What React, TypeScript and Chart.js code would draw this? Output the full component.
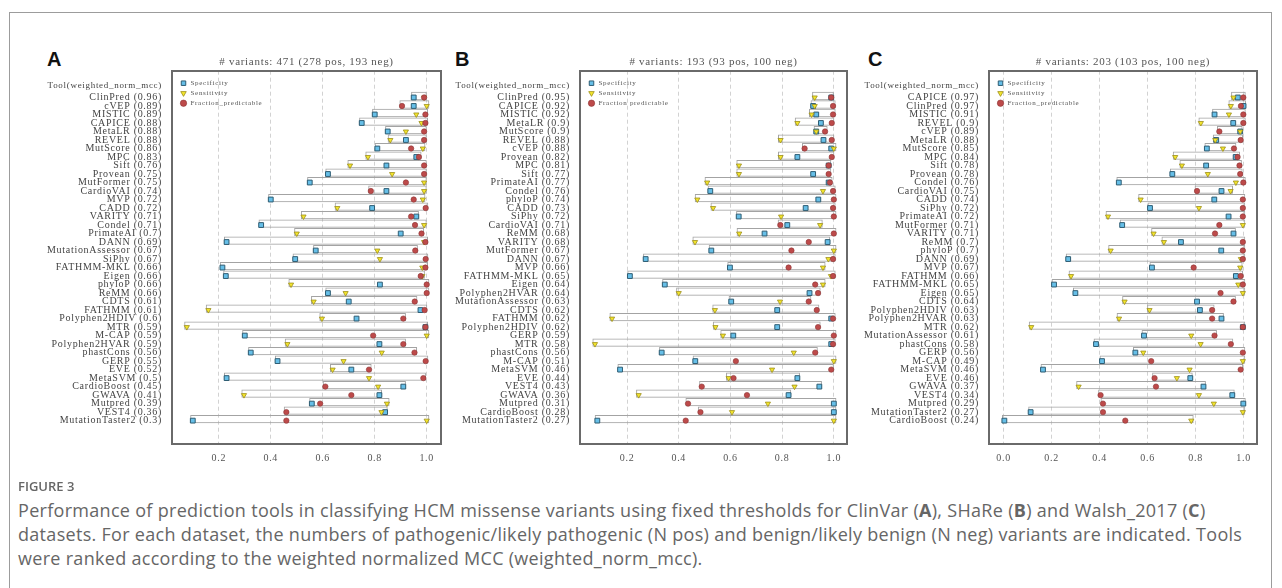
import React, { useEffect, useRef } from 'react';
import Chart from 'chart.js/auto';

// ---------- Panel A (ClinVar) ----------
const toolsA = ['ClinPred', 'cVEP', 'MISTIC', 'CAPICE', 'MetaLR', 'REVEL', 'MutScore', 'MPC', 'Sift', 'Provean', 'MutFormer', 'CardioVAI', 'MVP', 'CADD', 'VARITY', 'Condel', 'PrimateAI', 'DANN', 'MutationAssessor', 'SiPhy', 'FATHMM-MKL', 'Eigen', 'phyloP', 'ReMM', 'CDTS', 'FATHMM', 'Polyphen2HDIV', 'MTR', 'M-CAP', 'Polyphen2HVAR', 'phastCons', 'GERP', 'EVE', 'MetaSVM', 'CardioBoost', 'GWAVA', 'Mutpred', 'VEST4', 'MutationTaster2'];
const mccA = [0.96, 0.89, 0.89, 0.88, 0.88, 0.88, 0.86, 0.83, 0.76, 0.75, 0.75, 0.74, 0.72, 0.72, 0.71, 0.71, 0.7, 0.69, 0.67, 0.67, 0.66, 0.66, 0.66, 0.66, 0.61, 0.61, 0.6, 0.59, 0.59, 0.59, 0.56, 0.55, 0.52, 0.5, 0.45, 0.41, 0.39, 0.36, 0.3];
const specA = [0.95, 0.95, 0.80, 0.75, 0.85, 0.92, 0.81, 0.96, 0.845, 0.62, 0.55, 0.845, 0.40, 0.79, 0.96, 0.363, 0.90, 0.23, 0.573, 0.494, 0.214, 0.227, 0.82, 0.62, 0.70, 0.976, 0.73, 0.995, 0.30, 0.818, 0.323, 0.426, 0.71, 0.23, 0.91, 0.818, 0.558, 0.84, 0.10];
const sensA = [0.99, 1.0, 0.96, 0.98, 0.92, 0.86, 0.985, 0.774, 0.705, 0.867, 0.99, 0.99, 0.985, 0.656, 0.526, 0.99, 0.50, 0.99, 0.81, 0.82, 0.983, 0.983, 0.478, 0.688, 0.565, 0.16, 0.597, 0.077, 1.0, 0.464, 0.827, 0.68, 0.638, 0.778, 0.813, 0.297, 0.847, 0.826, 1.0];
const fracA = [0.99, 0.905, 0.995, 0.995, 0.99, 0.99, 0.94, 0.97, 0.99, 0.99, 0.92, 0.785, 0.95, 0.996, 0.94, 0.955, 0.98, 0.995, 0.956, 0.996, 0.995, 0.977, 1.0, 1.0, 0.954, 0.992, 0.91, 0.995, 0.794, 0.91, 0.953, 0.996, 0.778, 0.987, 0.61, 0.71, 0.59, 0.46, 0.46];

// ---------- Panel B (SHaRe) ----------
const toolsB = ['ClinPred', 'CAPICE', 'MISTIC', 'MetaLR', 'MutScore', 'REVEL', 'cVEP', 'Provean', 'MPC', 'Sift', 'PrimateAI', 'Condel', 'phyloP', 'CADD', 'SiPhy', 'CardioVAI', 'ReMM', 'VARITY', 'MutFormer', 'DANN', 'MVP', 'FATHMM-MKL', 'Eigen', 'Polyphen2HVAR', 'MutationAssessor', 'CDTS', 'FATHMM', 'Polyphen2HDIV', 'GERP', 'MTR', 'phastCons', 'M-CAP', 'MetaSVM', 'EVE', 'VEST4', 'GWAVA', 'Mutpred', 'CardioBoost', 'MutationTaster2'];
const mccB = [0.95, 0.92, 0.92, 0.9, 0.9, 0.88, 0.88, 0.82, 0.81, 0.77, 0.77, 0.76, 0.74, 0.73, 0.72, 0.71, 0.68, 0.68, 0.67, 0.67, 0.66, 0.65, 0.64, 0.64, 0.63, 0.62, 0.62, 0.62, 0.59, 0.58, 0.56, 0.51, 0.46, 0.44, 0.43, 0.36, 0.31, 0.28, 0.27];
const specB = [0.99, 0.92, 0.932, 0.95, 0.932, 0.96, 0.99, 0.859, 0.98, 0.92, 0.98, 0.522, 0.94, 0.891, 0.632, 0.82, 0.732, 0.976, 0.526, 0.272, 0.598, 0.211, 0.346, 0.906, 0.603, 0.781, 0.99, 0.781, 0.611, 0.99, 0.334, 0.464, 0.173, 0.859, 0.944, 0.825, 1.0, 1.0, 0.085];
const sensB = [0.926, 0.926, 0.914, 0.859, 0.932, 0.794, 1.0, 0.794, 0.633, 0.633, 0.51, 0.958, 0.472, 0.533, 0.796, 0.947, 0.634, 0.463, 1.0, 0.979, 0.958, 0.989, 0.958, 0.40, 0.792, 0.54, 0.142, 0.542, 0.571, 0.076, 0.845, 1.0, 0.761, 0.593, 0.848, 0.245, 0.745, 0.606, 1.0];
const fracB = [0.99, 0.997, 0.997, 0.992, 0.966, 0.992, 0.887, 0.992, 0.98, 0.98, 0.985, 0.997, 1.0, 0.997, 1.0, 0.793, 1.0, 0.903, 0.836, 0.997, 0.825, 0.997, 0.928, 0.939, 0.903, 0.934, 0.997, 0.939, 1.0, 0.997, 0.928, 0.621, 0.99, 0.612, 0.489, 0.664, 0.436, 0.484, 0.427];

// ---------- Panel C (Walsh_2017) ----------
const toolsC = ['CAPICE', 'ClinPred', 'MISTIC', 'REVEL', 'cVEP', 'MetaLR', 'MutScore', 'MPC', 'Sift', 'Provean', 'Condel', 'CardioVAI', 'CADD', 'SiPhy', 'PrimateAI', 'MutFormer', 'VARITY', 'ReMM', 'phyloP', 'DANN', 'MVP', 'FATHMM', 'FATHMM-MKL', 'Eigen', 'CDTS', 'Polyphen2HDIV', 'Polyphen2HVAR', 'MTR', 'MutationAssessor', 'phastCons', 'GERP', 'M-CAP', 'MetaSVM', 'EVE', 'GWAVA', 'VEST4', 'Mutpred', 'MutationTaster2', 'CardioBoost'];
const mccC = [0.97, 0.97, 0.91, 0.9, 0.89, 0.88, 0.85, 0.84, 0.78, 0.78, 0.76, 0.75, 0.74, 0.72, 0.72, 0.71, 0.71, 0.7, 0.7, 0.69, 0.67, 0.66, 0.65, 0.65, 0.64, 0.63, 0.63, 0.62, 0.61, 0.58, 0.56, 0.49, 0.46, 0.46, 0.37, 0.34, 0.29, 0.27, 0.24];
const specC = [0.976, 1.0, 0.879, 0.957, 0.986, 0.886, 0.847, 0.967, 0.844, 0.703, 0.48, 0.908, 0.878, 0.61, 0.9375, 0.494, 0.958, 0.739, 0.907, 0.269, 0.618, 0.968, 0.21, 0.299, 0.806, 0.818, 0.908, 0.997, 0.585, 0.385, 0.549, 0.41, 0.164, 0.778, 0.833, 0.953, 0.999, 0.1125, 0.003];
const sensC = [0.958, 0.947, 0.939, 0.822, 0.986, 0.882, 0.914, 0.715, 0.743, 0.851, 0.968, 0.946, 0.571, 0.814, 0.435, 0.997, 0.625, 0.668, 0.446, 0.989, 0.986, 0.281, 0.978, 0.997, 0.504, 0.608, 0.481, 0.115, 0.782, 0.821, 0.582, 0.997, 0.775, 0.722, 0.3125, 0.814, 0.876, 0.997, 0.782];
const fracC = [0.999, 0.989, 0.999, 0.999, 0.899, 0.988, 0.96, 0.975, 0.983, 0.986, 0.999, 0.806, 0.997, 0.997, 0.997, 0.899, 0.881, 0.997, 0.997, 0.997, 0.792, 0.988, 0.997, 0.904, 0.958, 0.869, 0.869, 0.997, 0.879, 0.947, 0.997, 0.615, 0.988, 0.629, 0.635, 0.404, 0.414, 0.414, 0.507];

const titleA = '# variants: 471 (278 pos, 193 neg)';
const titleB = '# variants: 193 (93 pos, 100 neg)';
const titleC = '# variants: 203 (103 pos, 100 neg)';

const xTicksAB = [0.2, 0.4, 0.6, 0.8, 1.0];
const xTicksC = [0.0, 0.2, 0.4, 0.6, 0.8, 1.0];

const HEADER = 'Tool(weighted_norm_mcc)';
const HEADER_POS = -1.4;
const BOX_SHIFT = -0.17;
const BOX_PAD = 0.01;
const SERIF = "'Liberation Serif', 'Times New Roman', serif";

const spacingPlugin = {
  id: 'spacing',
  beforeDraw: (c: any) => {
    c.ctx.letterSpacing = '0.7px';
  },
};
const legendPlace = {
  id: 'legendPlace',
  afterLayout: (c: any) => {
    const l = c.legend;
    if (l) {
      l.left = c.chartArea.left + 5;
      l.top = c.chartArea.top;
      l.bottom = c.chartArea.bottom;
    }
  },
};

type PanelProps = {
  left: number;
  width: number;
  yWidth: number;
  xMin: number;
  xMax: number;
  tools: string[];
  mcc: number[];
  spec: number[];
  sens: number[];
  frac: number[];
  title: string;
  xTicks: number[];
  fracLabel: string;
};

function Panel(p: PanelProps) {
  const ref = useRef<HTMLCanvasElement>(null);
  useEffect(() => {
    const labels = p.tools.map((t, i) => `${t} (${p.mcc[i]})`);
    const rows = p.tools.map((_, i) => i);
    const boxData = rows.map((i) => ({
      x: [Math.min(p.spec[i], p.sens[i], p.frac[i]) - BOX_PAD, Math.max(p.spec[i], p.sens[i], p.frac[i]) + BOX_PAD],
      y: i + BOX_SHIFT,
    }));
    const chartTop = 40;
    const canvasH = 440;
    const plotTop = 70.7;
    const plotBottom = 444;
    const plotRight = p.left + p.width - 9;
    const chart = new Chart(ref.current as HTMLCanvasElement, {
      type: 'bar',
      data: {
        datasets: [
          {
            type: 'bar',
            label: 'range',
            data: boxData as any,
            backgroundColor: 'rgba(0,0,0,0)',
            borderColor: '#a3a3a3',
            borderWidth: 1,
            borderSkipped: false,
            barPercentage: 0.98,
            categoryPercentage: 1,
            xAxisID: 'x',
            yAxisID: 'y',
            order: 10,
          } as any,
          {
            type: 'scatter',
            label: 'Specificity',
            data: p.spec.map((v, i) => ({ x: v, y: i })),
            pointStyle: 'rect',
            pointRadius: 3.4,
            backgroundColor: '#66bfe8',
            borderColor: '#2f5d73',
            borderWidth: 1,
            xAxisID: 'x',
            yAxisID: 'y',
            order: 3,
          } as any,
          {
            type: 'scatter',
            label: 'Sensitivity',
            data: p.sens.map((v, i) => ({ x: v, y: i })),
            pointStyle: 'triangle',
            pointRotation: 180,
            pointRadius: 3,
            backgroundColor: '#f4e62c',
            borderColor: '#9c8e1c',
            borderWidth: 0.8,
            xAxisID: 'x',
            yAxisID: 'y',
            order: 2,
          } as any,
          {
            type: 'scatter',
            label: p.fracLabel,
            data: p.frac.map((v, i) => ({ x: v, y: i })),
            pointStyle: 'circle',
            pointRadius: 2.7,
            backgroundColor: '#bd4a4a',
            borderColor: '#8c3434',
            borderWidth: 0.6,
            xAxisID: 'x',
            yAxisID: 'y',
            order: 1,
          } as any,
        ],
      },
      options: {
        indexAxis: 'y',
        responsive: false,
        animation: false,
        devicePixelRatio: 1,
        events: [],
        layout: { padding: 0 },
        scales: {
          x: {
            type: 'linear',
            position: 'bottom',
            min: p.xMin,
            max: p.xMax,
            bounds: 'data',
            afterBuildTicks: (s: any) => {
              s.ticks = p.xTicks.map((v) => ({ value: v }));
            },
            afterFit: (s: any) => {
              s.height = chartTop + canvasH - plotBottom;
            },
            grid: { display: true, color: '#d2d2d2', lineWidth: 1, drawTicks: false },
            border: { display: true, color: '#6a6a6a', width: 2, dash: [4, 3] },
            ticks: {
              padding: 8,
              color: '#555',
              autoSkip: false,
              maxRotation: 0,
              font: { family: SERIF, size: 10 },
              callback: (v: any) => Number(v).toFixed(1),
            },
          },
          x2: {
            type: 'linear',
            position: 'top',
            min: p.xMin,
            max: p.xMax,
            grid: { display: false, drawTicks: false },
            border: { display: true, color: '#6a6a6a', width: 2 },
            ticks: { display: false },
            afterFit: (s: any) => {
              s.height = plotTop - chartTop;
            },
            title: {
              display: true,
              text: p.title,
              color: '#555',
              font: { family: SERIF, size: 11 },
              padding: { top: 15.8, bottom: 0 },
            },
          },
          y: {
            type: 'linear',
            reverse: true,
            min: -2.6,
            max: 40.2,
            bounds: 'data',
            afterBuildTicks: (s: any) => {
              s.ticks = [{ value: HEADER_POS }, ...rows.map((i) => ({ value: i }))];
            },
            afterFit: (s: any) => {
              s.width = p.yWidth;
            },
            grid: { display: false, drawTicks: false },
            border: { display: true, color: '#6a6a6a', width: 2 },
            ticks: {
              autoSkip: false,
              padding: 10,
              color: '#444',
              font: (ctx: any) => ({ family: SERIF, size: ctx.tick && ctx.tick.value < 0 ? 9 : 10 }),
              callback: (v: any) => (v < 0 ? HEADER : labels[v]),
            },
          },
          y2: {
            type: 'linear',
            position: 'right',
            grid: { display: false, drawTicks: false },
            ticks: { display: false },
            border: { display: true, color: '#6a6a6a', width: 2 },
            afterFit: (s: any) => {
              s.width = p.left + p.width - plotRight;
            },
          },
        },
        plugins: {
          tooltip: { enabled: false },
          title: { display: false },
          legend: {
            display: true,
            position: 'chartArea',
            align: 'start',
            title: { display: true, text: ' ', font: { size: 1 }, padding: { top: 4.8, bottom: 0 } },
            labels: {
              usePointStyle: true,
              boxWidth: 8,
              boxHeight: 4.5,
              padding: 3,
              color: '#555',
              font: { family: SERIF, size: 7 },
              filter: (item: any) => item.datasetIndex > 0,
              sort: (a: any, b: any) => a.datasetIndex - b.datasetIndex,
            },
          },
        },
      } as any,
      plugins: [spacingPlugin, legendPlace],
    });
    return () => chart.destroy();
  }, []);
  return (
    <canvas
      ref={ref}
      width={p.width}
      height={440}
      style={{ position: 'absolute', left: p.left, top: 40, width: p.width, height: 440 }}
    />
  );
}

const letterStyle: React.CSSProperties = {
  position: 'absolute',
  top: 49,
  fontFamily: "'Liberation Sans', Arial, sans-serif",
  fontWeight: 700,
  fontSize: 20,
  lineHeight: '20px',
  color: '#111',
};

export default function App() {
  return (
    <div
      style={{
        position: 'fixed',
        left: 0,
        top: 0,
        width: 1282,
        height: 588,
        overflow: 'hidden',
        background: '#fff',
      }}
    >
      <div
        style={{
          position: 'absolute',
          left: 9,
          top: 12,
          width: 1263,
          height: 700,
          border: '1px solid #9c9c9c',
          boxSizing: 'border-box',
        }}
      />
      <div style={{ ...letterStyle, left: 47 }}>A</div>
      <div style={{ ...letterStyle, left: 455 }}>B</div>
      <div style={{ ...letterStyle, left: 868 }}>C</div>
      <Panel left={30} width={420} yWidth={142} xMin={0.02} xMax={1.055} tools={toolsA} mcc={mccA} spec={specA} sens={sensA} frac={fracA} title={titleA} xTicks={xTicksAB} fracLabel="Fraction_predictable" />
      <Panel left={450} width={406} yWidth={130} xMin={0.018} xMax={1.051} tools={toolsB} mcc={mccB} spec={specB} sens={sensB} frac={fracB} title={titleB} xTicks={xTicksAB} fracLabel="Fraction predictable" />
      <Panel left={856} width={410} yWidth={133} xMin={-0.061} xMax={1.056} tools={toolsC} mcc={mccC} spec={specC} sens={sensC} frac={fracC} title={titleC} xTicks={xTicksC} fracLabel="Fraction_predictable" />
      <div
        style={{
          position: 'absolute',
          left: 18,
          top: 477,
          fontFamily: "'Open Sans', sans-serif",
          fontSize: 13,
          fontWeight: 600,
          color: '#666',
          lineHeight: '18px',
          whiteSpace: 'nowrap',
        }}
      >
        FIGURE 3
      </div>
      <div
        style={{
          position: 'absolute',
          left: 18,
          top: 498,
          fontFamily: "'Open Sans', sans-serif",
          fontSize: 18,
          letterSpacing: '0.3px',
          color: '#666',
          lineHeight: '24px',
          whiteSpace: 'nowrap',
        }}
      >
        Performance of prediction tools in classifying HCM missense variants using fixed thresholds for ClinVar (<b>A</b>), SHaRe (<b>B</b>) and Walsh_2017 (<b>C</b>)
        <br />
        datasets. For each dataset, the numbers of pathogenic/likely pathogenic (N pos) and benign/likely benign (N neg) variants are indicated. Tools
        <br />
        were ranked according to the weighted normalized MCC (weighted_norm_mcc).
      </div>
    </div>
  );
}
